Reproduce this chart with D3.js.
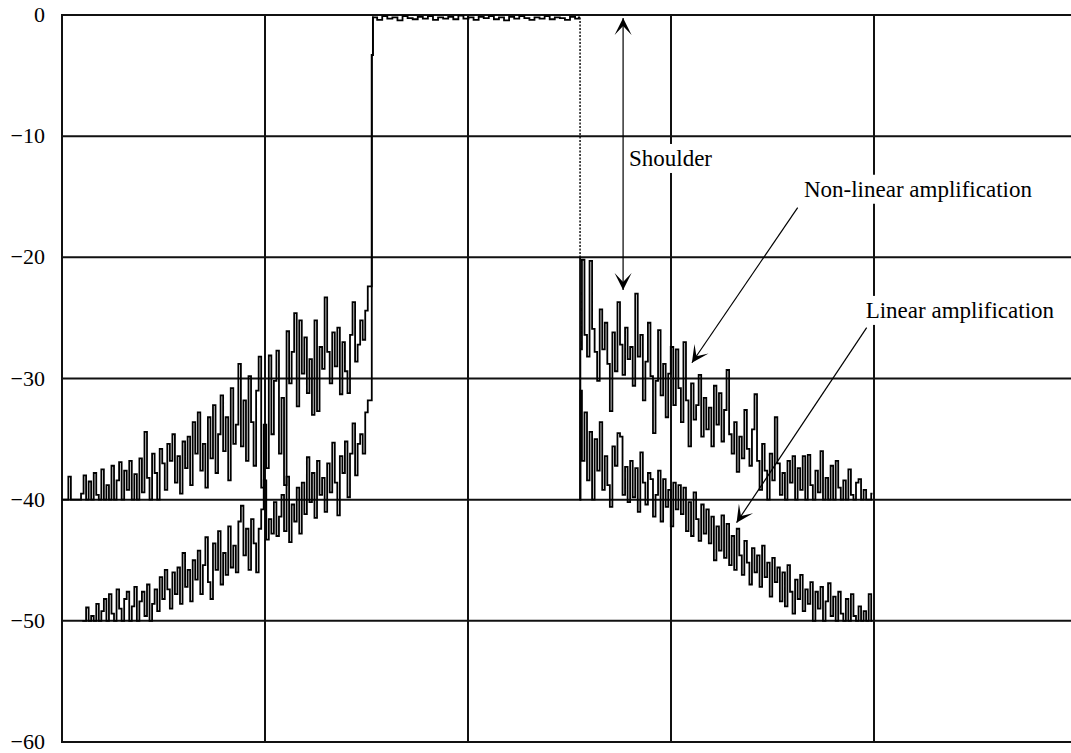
<!DOCTYPE html>
<html>
<head>
<meta charset="utf-8">
<style>
body { margin: 0; background: #fff; }
svg { display: block; background: #fff; }
.tick text { font-family: "Times New Roman", "Liberation Serif", serif; font-size: 22px; fill: #000; }
.note { font-family: "Times New Roman", "Liberation Serif", serif; font-size: 23px; fill: #000; }
.grid { stroke: #111; stroke-width: 2; }
.trace { fill: none; stroke: #000; stroke-width: 1.8; stroke-linejoin: miter; }
</style>
</head>
<body>
<svg id="svg"></svg>
<script src="https://cdnjs.cloudflare.com/ajax/libs/d3/7.8.5/d3.min.js"></script>
<script>
// axis values (dB) and grid divisions (frequency, in divisions)
var yTicks = [0, -10, -20, -30, -40, -50, -60]
var xGrid = [0, 1, 2, 3, 4, 5]

// sample spacing (divisions) and start frequencies of each trace part
var step = 0.0125
var nlLeftStart = 0
var linLeftStart = 0.1
var rightStart = 2.555
var chanStart = 1.54
var chanStep = 0.025

// non-linear amplification, lower skirt (dB)
var nlLeft = [
  -40, -40, -40, -38.1, -40, -40, -40, -40, -39.5, -38,
  -40, -38.5, -40, -37.8, -39.6, -40, -37.5, -40, -38.8, -40,
  -37.2, -40, -38.4, -36.9, -40, -37.6, -39.2, -36.8, -40, -37.9,
  -40, -36.6, -39.4, -34.4, -38.2, -40, -36.2, -37.8, -40, -35.8,
  -37, -39.2, -35.4, -36.8, -34.6, -38.6, -36.4, -39.5, -35.2, -37.4,
  -34.8, -38.8, -33.6, -36.2, -32.8, -37.6, -35.4, -39, -33.2, -36.6,
  -32.2, -37.8, -34.6, -31.4, -36, -33.2, -38.4, -30.8, -35.4, -33.8,
  -28.8, -35.6, -31.8, -36.8, -29.8, -33.6, -37.2, -31, -28.2, -39,
  -33.8, -37.4, -28.1, -34.6, -30.2, -27.7, -36.2, -31.6, -38.8, -26.1,
  -30.4, -27.8, -24.6, -32.3, -25.2, -29.6, -26.6, -31.2, -28.4, -33,
  -25.2, -32.7, -27.4, -29.2, -23.3, -27.8, -30.4, -26.2, -29, -25.8,
  -31.3, -27, -29.4, -31.2, -26.4, -23.7, -28.6, -27.2, -25.2, -26.8,
  -24.4, -22.4
]
// linear amplification, lower skirt (dB)
var linLeft = [
  -50, -50, -48.9, -50, -49.6, -50, -48.6, -50, -49.2, -48.2,
  -50, -47.8, -49.4, -50, -47.4, -49, -50, -48.2, -47.6, -50,
  -48.8, -47.2, -50, -48.4, -47.6, -49.6, -47, -50, -48.6, -47.4,
  -49.2, -46.4, -48.2, -45.8, -47.4, -49, -46, -47.8, -45.6, -48.6,
  -44.4, -47.2, -45.8, -48.4, -45, -46.6, -44.2, -47.8, -45.4, -43.1,
  -46.8, -48.2, -43.6, -45.8, -42.6, -47, -44.4, -46.2, -42.2, -45.6,
  -43.8, -46, -41.8, -40.5, -44.6, -42.4, -45.8, -41.6, -43.6, -46,
  -42.4, -40.8, -38.4, -43.3, -41.6, -42.8, -40.2, -43, -41.4, -39.6,
  -42.6, -38.1, -43.5, -40.4, -41.8, -39, -42.8, -38.6, -41.2, -36.5,
  -40.2, -37.8, -41.5, -36.8, -39.6, -38.2, -41, -37, -39.4, -35.3,
  -38.6, -41.3, -36.4, -37.8, -35.2, -39.8, -36.2, -33.7, -38, -35.4,
  -34.6, -36.2, -32.8, -31.8
]
// in-band level (dB)
var channel = [
  -0.2, -0.4, -0.1, -0.3, -0.2, -0.45, -0.1, -0.25, -0.35, -0.15,
  -0.3, -0.1, -0.4, -0.2, -0.3, -0.15, -0.35, -0.05, -0.3, -0.2,
  -0.4, -0.15, -0.25, -0.1, -0.35, -0.2, -0.45, -0.15, -0.3, -0.1,
  -0.25, -0.4, -0.2, -0.3, -0.1, -0.35, -0.2, -0.25, -0.4, -0.15, -0.3
]
// non-linear amplification, upper skirt (dB)
var nlRight = [
  -27.6, -20.2, -26.4, -28.2, -20.3, -25.9, -27.8, -30.2, -24.3, -27.6,
  -25.4, -28.8, -32.7, -26.2, -29.4, -23.7, -27.2, -29.7, -25.8, -28.4,
  -27.4, -30.6, -23, -28.2, -26.4, -31.8, -28.6, -25.4, -29.8, -34.5,
  -30.2, -26, -31.4, -28.8, -33.2, -29.6, -27.4, -32.2, -27.6, -30.8,
  -33.6, -27, -31.8, -35.6, -30.4, -33.4, -32.2, -29.7, -34.8, -31.6,
  -34.2, -32.4, -35.6, -30.6, -33.8, -31.2, -35.2, -32.6, -29.3, -34.6,
  -36.2, -33.6, -37.7, -34.8, -36.6, -32.6, -35.8, -37.2, -34.2, -31.3,
  -36.8, -39.2, -35.4, -37.6, -40, -36.2, -38.4, -33.2, -37, -39.6,
  -37.8, -40, -36.8, -38.6, -36.4, -40, -37.4, -39.2, -36.4, -40,
  -36.3, -38.8, -40, -37.6, -39.4, -36, -40, -38.2, -40, -37.2,
  -40, -36.8, -39, -40, -38.4, -40, -37.5, -39.6, -40, -38.6,
  -38.3, -40, -39.2, -40, -40, -39.5
]
// linear amplification, upper skirt (dB)
var linRight = [
  -31, -36.8, -32.8, -38.4, -34.4, -40, -35, -37.6, -33.6, -39.2,
  -36.4, -38.8, -40.6, -35.6, -37.2, -34.5, -34.8, -39.6, -37.3, -40.2,
  -36.8, -39.8, -37.4, -41, -36.1, -38.6, -40.4, -37.8, -38.3, -41.4,
  -39.6, -37.6, -41.8, -38.3, -40.6, -39.2, -42.2, -38.6, -40.8, -38.8,
  -41.2, -39, -42.6, -40.2, -43, -39.4, -41.6, -43.4, -40.4, -42.8,
  -40.8, -43.6, -41.4, -45, -42.2, -44.2, -41.3, -44.8, -42, -45.4,
  -43, -45.8, -42.4, -44.6, -46.2, -43.4, -45.2, -47, -44, -46,
  -44.6, -47.2, -43.8, -46.4, -45.2, -48, -44.8, -46.8, -45.6, -48.4,
  -46, -48.8, -45.4, -47.6, -49.4, -46.6, -48.2, -46.2, -49.2, -47.4,
  -48.6, -46.8, -50, -47.6, -49, -47.2, -50, -48.4, -46.9, -49.6,
  -48, -50, -47.6, -49.4, -50, -48.2, -50, -47.8, -49.6, -50,
  -48.8, -50, -49.2, -50, -47.8, -50
]
// channel edges
var leftEdge = [{f: 1.527, db: -3.3}, {f: 1.536, db: -0.2}]
var rightEdgeTop = [{f: 2.552, db: -0.2}, {f: 2.552, db: -20}]
var rightEdgeLow = [{f: 2.552, db: -20}, {f: 2.552, db: -40}]

// annotations (frequency / dB)
var notes = [
  {text: "Shoulder", f: 2.793, db: -12.46},
  {text: "Non-linear amplification", f: 3.655, db: -15.0},
  {text: "Linear amplification", f: 3.959, db: -25.0}
]
var arrows = [
  {f1: 2.764, db1: -0.25, f2: 2.764, db2: -22.7, both: true},
  {f1: 3.624, db1: -15.9, f2: 3.103, db2: -28.7, both: false},
  {f1: 3.964, db1: -25.8, f2: 3.323, db2: -41.9, both: false}
]

var width = 1071, height = 753

var x = d3.scaleLinear().domain([0, 5]).range([62, 1077])
var y = d3.scaleLinear().domain([-60, 0]).range([742, 15])

var svg = d3.select("#svg").attr("width", width).attr("height", height)

function pts(start, stp, vals) {
  return vals.map(function(v, i) { return {f: start + i * stp, db: v} })
}
var chanPts = pts(chanStart, chanStep, channel)

var nlLeftTrace = pts(nlLeftStart, step, nlLeft)
  .concat([{f: 1.525, db: -22.4}], leftEdge, chanPts, [rightEdgeTop[0]])
var linLeftTrace = pts(linLeftStart, step, linLeft)
  .concat([{f: 1.525, db: -31.8}], leftEdge)
var nlRightTrace = rightEdgeLow.concat(pts(rightStart, step, nlRight))
var linRightTrace = [rightEdgeLow[1]].concat(pts(rightStart, step, linRight))

// grid
svg.append("g").selectAll("line.h")
  .data(yTicks).enter().append("line")
  .attr("class", "grid")
  .attr("x1", x(0) - 1).attr("x2", x(5))
  .attr("y1", d => y(d)).attr("y2", d => y(d))
svg.append("g").selectAll("line.v")
  .data(xGrid).enter().append("line")
  .attr("class", "grid")
  .attr("x1", d => x(d)).attr("x2", d => x(d))
  .attr("y1", y(0)).attr("y2", y(-60))

// y axis labels
var yAxis = d3.axisLeft(y)
  .tickValues(yTicks)
  .tickSize(0)
  .tickPadding(17)
  .tickFormat(d3.format("d"))
var ya = svg.append("g").attr("transform", "translate(" + x(0) + ",0)").call(yAxis)
ya.select(".domain").remove()
ya.selectAll(".tick text").attr("dy", "0.3em")

// traces
var line = d3.line().x(d => x(d.f)).y(d => y(d.db)).curve(d3.curveStep)
var straight = d3.line().x(d => x(d.f)).y(d => y(d.db))
svg.selectAll("path.trace")
  .data([linLeftTrace, nlLeftTrace, nlRightTrace, linRightTrace])
  .enter().append("path")
  .attr("class", "trace")
  .attr("d", line)
// faint upper part of the right channel edge
svg.append("path").datum(rightEdgeTop)
  .attr("d", straight)
  .attr("fill", "none").attr("stroke", "#000")
  .attr("stroke-width", 1.4).attr("stroke-dasharray", "2,1.5")

// arrow head
svg.append("defs").append("marker")
  .attr("id", "head")
  .attr("viewBox", "-18 -9 20 18")
  .attr("refX", 0).attr("refY", 0)
  .attr("markerWidth", 20).attr("markerHeight", 18)
  .attr("markerUnits", "userSpaceOnUse")
  .attr("orient", "auto-start-reverse")
  .append("path")
  .attr("d", "M0,0 L-17,-8.5 L-8,0 L-17,8.5 Z")
  .attr("fill", "#000")

// notes with white knock-out behind
var ng = svg.append("g").selectAll("g")
  .data(notes).enter().append("g")
ng.append("rect").attr("fill", "#fff")
ng.append("text")
  .attr("class", "note")
  .attr("x", d => x(d.f))
  .attr("y", d => y(d.db))
  .text(d => d.text)
ng.each(function() {
  var t = d3.select(this).select("text").node().getBBox()
  d3.select(this).select("rect")
    .attr("x", t.x - 3).attr("y", t.y - 2)
    .attr("width", t.width + 6).attr("height", t.height + 4)
})

svg.append("g").selectAll("line")
  .data(arrows).enter().append("line")
  .attr("x1", d => x(d.f1)).attr("y1", d => y(d.db1))
  .attr("x2", d => x(d.f2)).attr("y2", d => y(d.db2))
  .attr("stroke", "#000").attr("stroke-width", 1.2)
  .attr("marker-end", "url(#head)")
  .attr("marker-start", d => d.both ? "url(#head)" : null)
</script>
</body>
</html>
